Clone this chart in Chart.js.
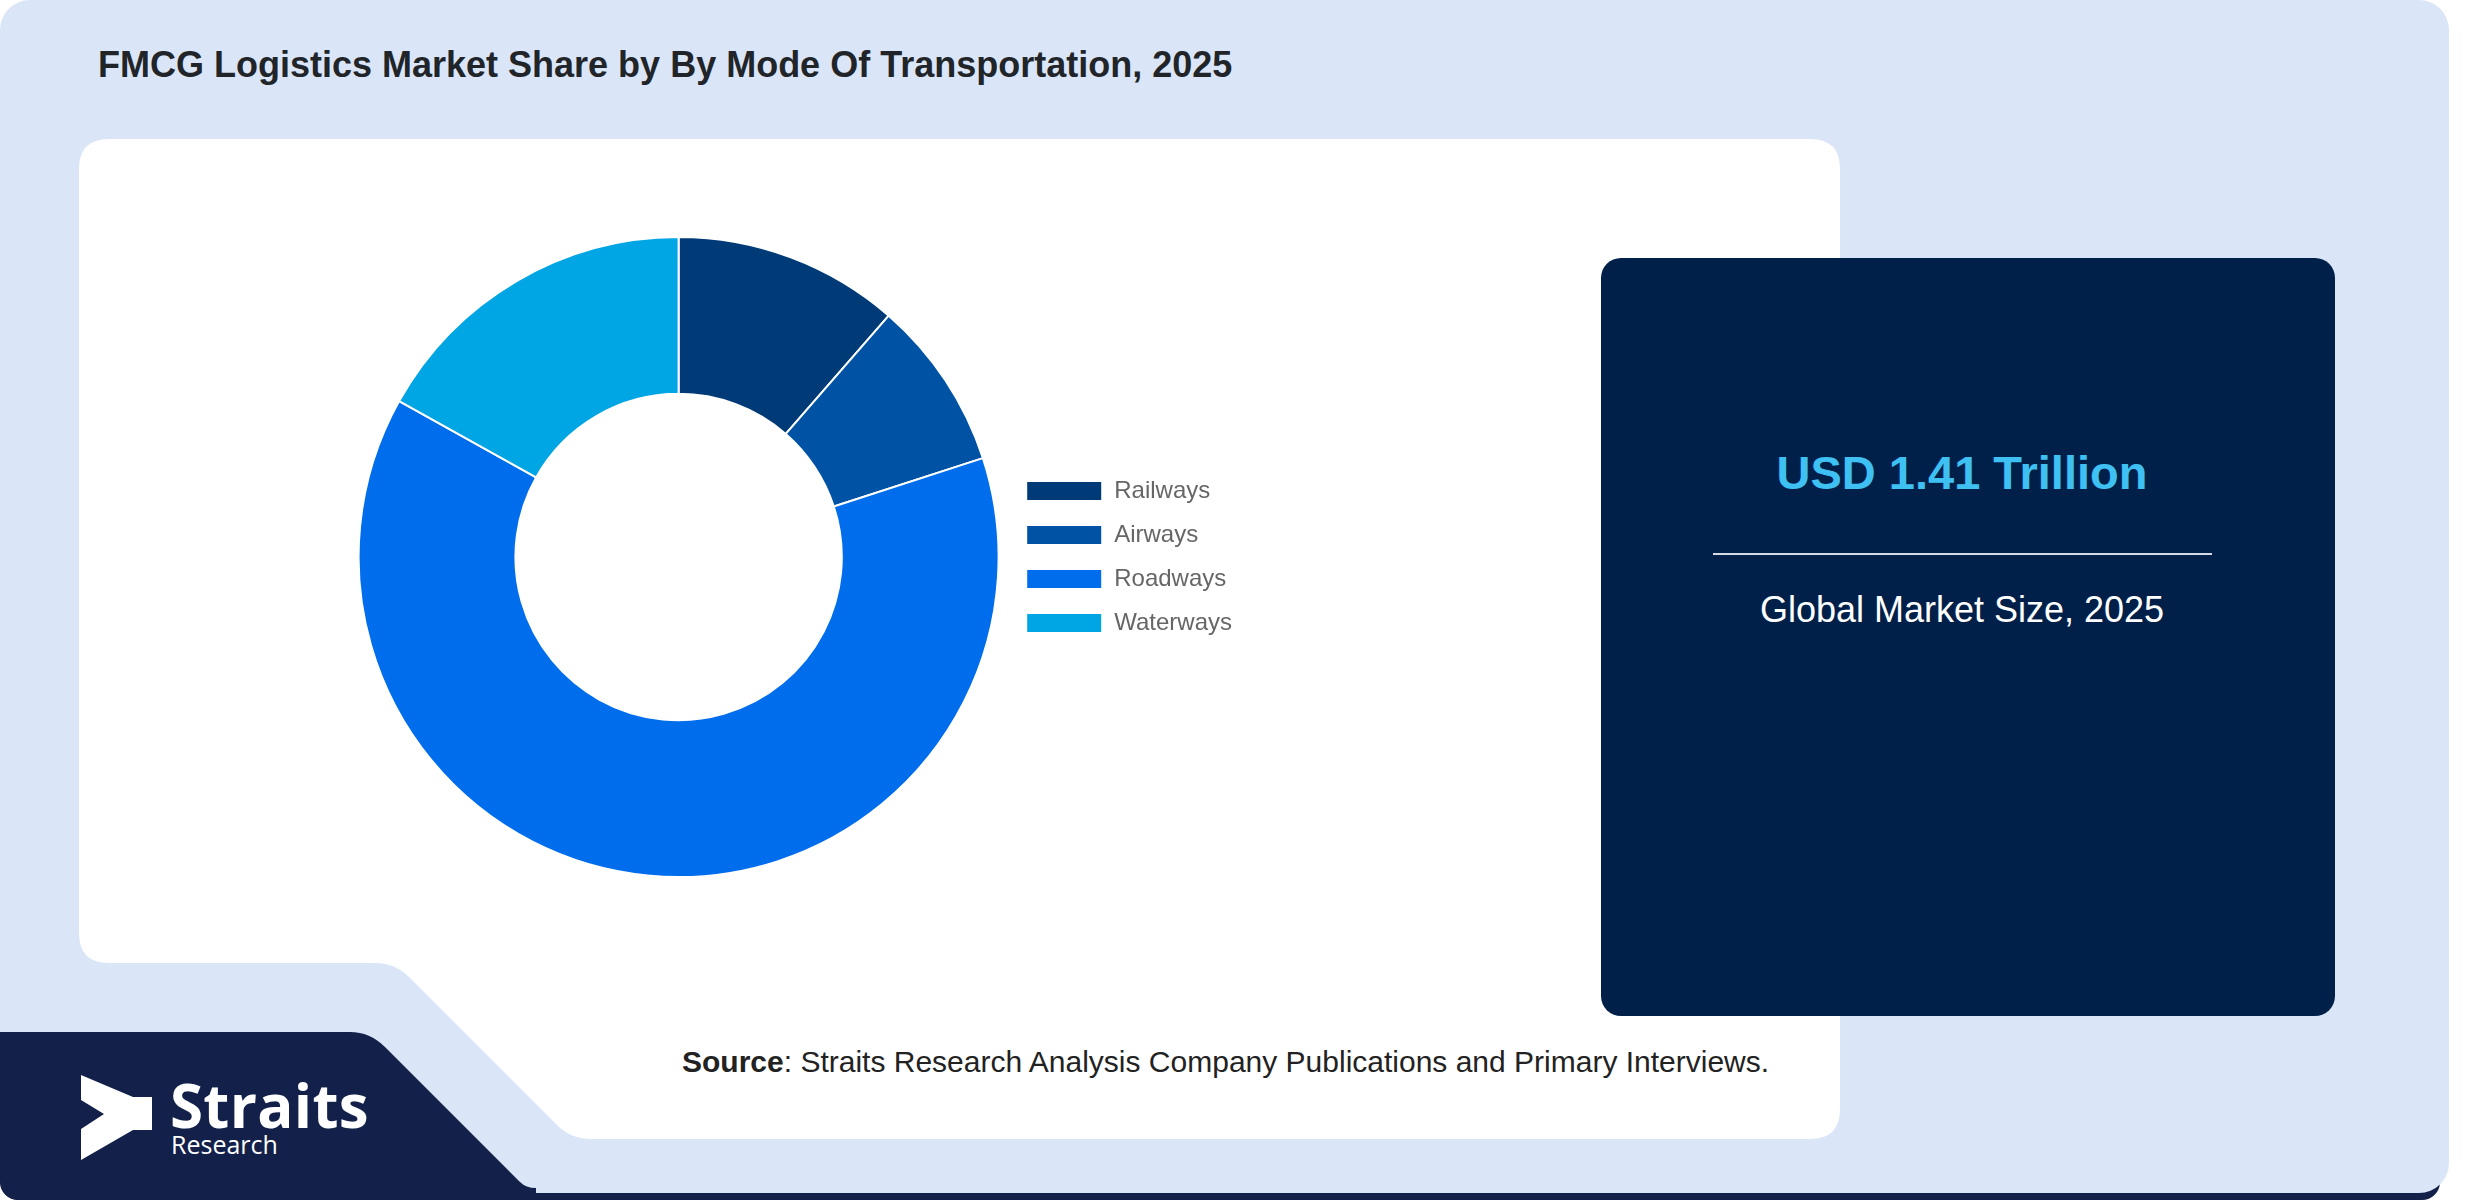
<!DOCTYPE html>
<html>
<head>
<meta charset="utf-8">
<script src="https://cdn.jsdelivr.net/npm/chart.js@4.4.1/dist/chart.umd.min.js"></script>
<style>
  html, body { margin:0; padding:0; background:#ffffff; }
  #stage { position:relative; width:2480px; height:1200px; overflow:hidden; font-family:"Liberation Sans", Arial, sans-serif; }
  .abs { position:absolute; white-space:nowrap; }
  #title { left:98px; top:47px; font-size:36px; line-height:36px; font-weight:700; color:#212529; }
  #infobox { left:1601px; top:258px; width:734px; height:758px; border-radius:20px; background:#00204a; }
  #usd { left:1595px; width:734px; top:449px; text-align:center; font-size:47px; line-height:47px; font-weight:700; color:#3fc0f3; }
  #divider { left:1713px; top:553px; width:499px; height:2px; background:#d5dbe4; }
  #gms { left:1595px; width:734px; top:592px; text-align:center; font-size:36px; line-height:36px; color:#ffffff; }
  #source { left:682px; top:1047px; font-size:30px; line-height:30px; color:#222222; }
  #logoText { left:170px; top:1081px; font-family:"Open Sans", sans-serif; color:#ffffff; }
  #logoText .l1 { display:block; height:48px; font-weight:700; font-size:60px; line-height:48px; letter-spacing:0.3px; }
  #logoText .l2 { display:block; height:22px; margin-top:4px; margin-left:1px; font-weight:400; font-size:25px; line-height:22px; }
  #chartWrap { position:absolute; left:351px; top:236px; width:891px; height:642px; }
</style>
</head>
<body>
<div id="stage">
  <svg class="abs" style="left:0;top:0" width="2480" height="1200" xmlns="http://www.w3.org/2000/svg">
    <rect x="0" y="1120" width="2440" height="80" rx="18" ry="18" fill="#13214a"/>
    <rect x="0" y="0" width="2449" height="1193" rx="30" ry="30" fill="#dae6f8"/>
    <path d="M0,1032 H350 Q370,1032 385,1047 L520,1182 Q526,1188 536,1188 V1200 H22 Q0,1200 0,1178 Z" fill="#13214a"/>
    <path d="M109,139 H1810 Q1840,139 1840,169 V1109 Q1840,1139 1810,1139 H591 Q571,1139 557,1125 L409,977 Q395,963 375,963 H109 Q79,963 79,933 V169 Q79,139 109,139 Z" fill="#ffffff"/>
    <polygon points="81,1075 133,1097 152,1097 152,1130 133,1130 81,1160 81,1129 104,1114 81,1100" fill="#ffffff"/>
  </svg>
  <div id="title" class="abs">FMCG Logistics Market Share by By Mode Of Transportation, 2025</div>
  <div id="infobox" class="abs"></div>
  <div id="usd" class="abs">USD 1.41 Trillion</div>
  <div id="divider" class="abs"></div>
  <div id="gms" class="abs">Global Market Size, 2025</div>
  <div id="source" class="abs"><b>Source</b>: Straits Research Analysis Company Publications and Primary Interviews.</div>
  <div id="logoText" class="abs"><span class="l1">Straits</span><span class="l2">Research</span></div>
  <div id="chartWrap"><canvas id="c" width="891" height="642"></canvas></div>
</div>
<script>
const categories = ['Railways', 'Airways', 'Roadways', 'Waterways'];
const shares = [11.4, 8.6, 63.1, 16.9];
const sliceColors = ['#003b77', '#0052a4', '#006ded', '#00a5e3'];

Chart.defaults.font.family = "'Liberation Sans', Arial, sans-serif";
new Chart(document.getElementById('c'), {
  type: 'doughnut',
  data: {
    labels: categories,
    datasets: [{
      data: shares,
      backgroundColor: sliceColors,
      borderColor: '#ffffff',
      borderWidth: 2
    }]
  },
  options: {
    responsive: false,
    maintainAspectRatio: false,
    devicePixelRatio: 1,
    animation: false,
    cutout: '51%',
    layout: { padding: 0 },
    plugins: {
      tooltip: { enabled: false },
      title: { display: false },
      legend: {
        display: true,
        position: 'right',
        labels: {
          boxWidth: 76,
          boxHeight: 20,
          padding: 20,
          color: '#666666',
          font: { size: 24 }
        }
      }
    }
  }
});
</script>
</body>
</html>
